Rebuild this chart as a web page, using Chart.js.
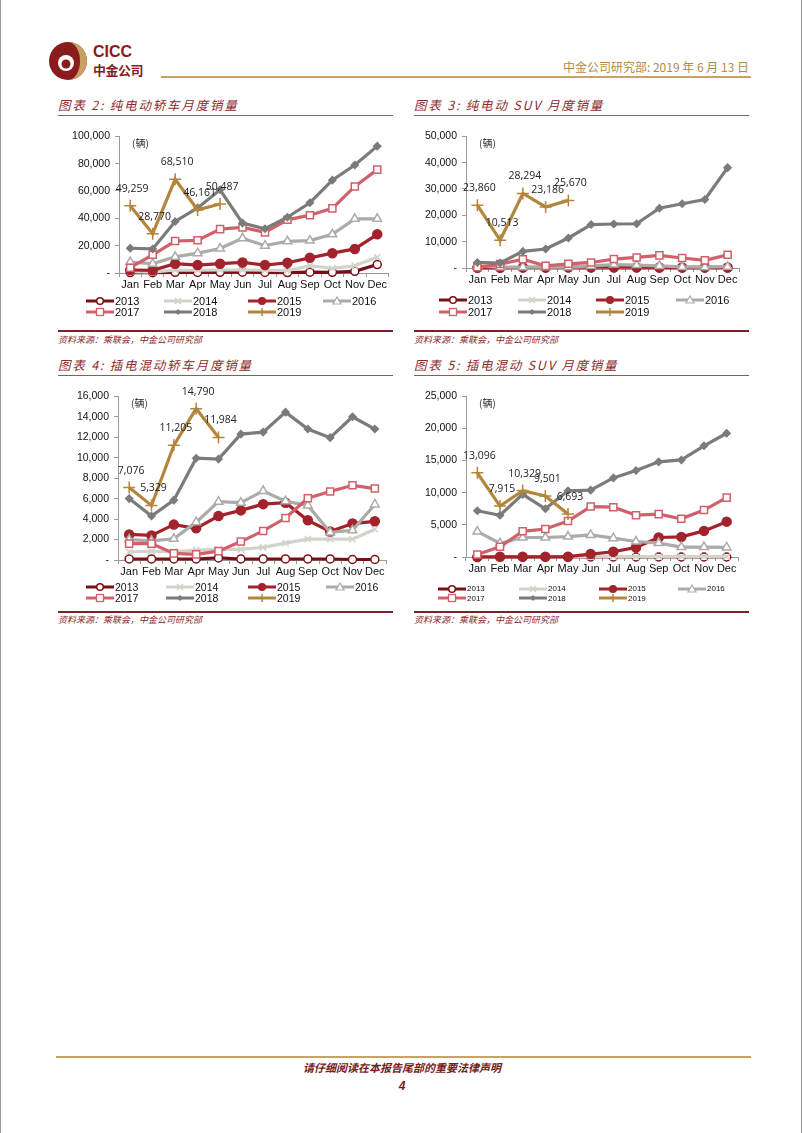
<!DOCTYPE html>
<html>
<head>
<meta charset="utf-8">
<script src="https://cdn.jsdelivr.net/npm/chart.js@4.4.1/dist/chart.umd.min.js"></script>
<style>
body { margin: 0; background: #fff; }
#page { position: relative; width: 802px; height: 1133px; overflow: hidden; box-sizing: border-box;
        border-left: 1px solid #999; border-right: 1px solid #999; font-family: "Liberation Sans", Arial, sans-serif; }
.abs { position: absolute; }
.title { font-family: "Noto Sans CJK SC"; font-style: italic; font-size: 12.5px; color: #8b2b2b; letter-spacing: 1.8px; white-space: nowrap; line-height: 14px; }
.tline { height: 1px; background: #b04a50; }
.sline { height: 2px; background: #7a2228; }
.src { font-family: "Noto Sans CJK SC"; font-style: italic; font-size: 9px; color: #8b2b2b; white-space: nowrap; line-height: 10px; }
.box { position: absolute; }
.leg { position: absolute; display: flex; align-items: center; white-space: nowrap; color: #111; }
.leg svg { display: block; margin-right: 1px; }
</style>
</head>
<body>
<div id="page">
  <!-- header -->
  <svg class="abs" style="left:46px;top:40px" width="42" height="42" viewBox="0 0 42 42">
    <circle cx="21" cy="21" r="19" fill="#8b1c1c"/>
    <path d="M21 2 A19 19 0 0 1 21 40 A12 19 0 0 0 21 2 Z" fill="#c9a063"/>
    <circle cx="19" cy="23" r="8" fill="#fff"/>
    <circle cx="19" cy="24" r="4.5" fill="#8b1c1c"/>
  </svg>
  <div class="abs" style="left:92px;top:43px;font:bold 16px 'Liberation Sans',Arial;color:#8b1c1c">CICC</div>
  <div class="abs" style="left:92px;top:60px;font:bold 13px 'Noto Sans CJK SC';color:#8b1c1c;letter-spacing:-0.5px">中金公司</div>
  <div class="abs" style="right:52px;top:58px;font:12px 'Noto Sans CJK SC';color:#b5894a;white-space:nowrap">中金公司研究部: 2019 年 6 月 13 日</div>
  <div class="abs" style="left:160px;top:76px;width:590px;height:2px;background:#c8a266"></div>

  <!-- chart 1 -->
  <div class="abs title" style="left:57px;top:98px">图表 2: 纯电动轿车月度销量</div>
  <div class="abs tline" style="left:57px;top:115px;width:335px"></div>
  <div class="box" style="left:55px;top:125px;width:340px;height:172px"><canvas id="c1"></canvas></div>
  <div class="abs sline" style="left:57px;top:330px;width:335px"></div>
  <div class="abs src" style="left:57px;top:335px">资料来源：乘联会，中金公司研究部</div>

  <!-- chart 2 -->
  <div class="abs title" style="left:413px;top:98px">图表 3: 纯电动 SUV 月度销量</div>
  <div class="abs tline" style="left:413px;top:115px;width:335px"></div>
  <div class="box" style="left:410px;top:125px;width:340px;height:167px"><canvas id="c2"></canvas></div>
  <div class="abs sline" style="left:413px;top:330px;width:335px"></div>
  <div class="abs src" style="left:413px;top:335px">资料来源：乘联会，中金公司研究部</div>

  <!-- chart 3 -->
  <div class="abs title" style="left:57px;top:358px">图表 4: 插电混动轿车月度销量</div>
  <div class="abs tline" style="left:57px;top:375px;width:335px"></div>
  <div class="box" style="left:55px;top:385px;width:340px;height:199px"><canvas id="c3"></canvas></div>
  <div class="abs sline" style="left:57px;top:611px;width:335px"></div>
  <div class="abs src" style="left:57px;top:615px">资料来源：乘联会，中金公司研究部</div>

  <!-- chart 4 -->
  <div class="abs title" style="left:413px;top:358px">图表 5: 插电混动 SUV 月度销量</div>
  <div class="abs tline" style="left:413px;top:375px;width:335px"></div>
  <div class="box" style="left:410px;top:385px;width:340px;height:196px"><canvas id="c4"></canvas></div>
  <div class="abs sline" style="left:413px;top:611px;width:335px"></div>
  <div class="abs src" style="left:413px;top:615px">资料来源：乘联会，中金公司研究部</div>

  <!-- footer -->
  <div class="abs" style="left:55px;top:1056px;width:695px;height:2px;background:#c8a266"></div>
  <div class="abs" style="left:0;width:802px;top:1059px;text-align:center;font:italic bold 11px 'Noto Sans CJK SC';color:#7a1c1c">请仔细阅读在本报告尾部的重要法律声明</div>
  <div class="abs" style="left:0;width:802px;top:1079px;text-align:center;font:italic bold 12px 'Liberation Sans',Arial;color:#7a1c1c">4</div>
</div>

<script>
const months = ['Jan', 'Feb', 'Mar', 'Apr', 'May', 'Jun', 'Jul', 'Aug', 'Sep', 'Oct', 'Nov', 'Dec'];
const years = ['2013', '2014', '2015', '2016', '2017', '2018', '2019'];

// 纯电动轿车
const bevSedan2013 = [300, 200, 500, 400, 500, 600, 400, 300, 600, 500, 1200, 6200];
const bevSedan2014 = [1000, 700, 2200, 2000, 2200, 2200, 2000, 1700, 5300, 3400, 5300, 11500];
const bevSedan2015 = [2200, 1900, 6800, 5800, 6800, 7700, 5800, 7500, 11100, 14500, 17600, 28300];
const bevSedan2016 = [8000, 6800, 11800, 14500, 17900, 25400, 20000, 23200, 23700, 28300, 39600, 39600];
const bevSedan2017 = [3900, 13300, 23400, 23900, 32100, 33300, 29700, 38900, 42300, 47300, 63300, 75600];
const bevSedan2018 = [18100, 17600, 37700, 47600, 60900, 36500, 32400, 40800, 51400, 67900, 79000, 92800];
const bevSedan2019 = [49259, 28770, 68510, 46161, 50487];

// 纯电动SUV
const bevSuv2013 = [0, 0, 0, 0, 0, 0, 0, 0, 0, 0, 0, 0];
const bevSuv2014 = [100, 100, 100, 100, 100, 200, 200, 200, 300, 300, 300, 300];
const bevSuv2015 = [100, 100, 200, 200, 300, 300, 300, 300, 200, 200, 200, 200];
const bevSuv2016 = [800, 300, 300, 300, 300, 800, 1300, 1100, 800, 400, 300, 500];
const bevSuv2017 = [300, 1500, 3300, 800, 1600, 2100, 3400, 4000, 4800, 3800, 2900, 5000];
const bevSuv2018 = [2100, 1900, 6300, 7200, 11400, 16500, 16700, 16800, 22700, 24400, 26000, 38100];
const bevSuv2019 = [23860, 10513, 28294, 23186, 25670];

// 插电混动轿车
const phevSedan2013 = [100, 100, 100, 100, 200, 100, 100, 100, 100, 100, 50, 50];
const phevSedan2014 = [780, 870, 800, 970, 1030, 1030, 1230, 1650, 2040, 2040, 2040, 3000];
const phevSedan2015 = [2500, 2400, 3460, 3100, 4300, 4850, 5460, 5600, 3880, 2780, 3560, 3780];
const phevSedan2016 = [2000, 1870, 2070, 3700, 5700, 5600, 6750, 5750, 5330, 2700, 2900, 5430];
const phevSedan2017 = [1600, 1600, 650, 550, 870, 1800, 2840, 4100, 6040, 6700, 7300, 6980];
const phevSedan2018 = [6000, 4300, 5850, 9950, 9860, 12300, 12500, 14450, 12800, 11960, 14000, 12800];
const phevSedan2019 = [7076, 5329, 11205, 14790, 11984];

// 插电混动SUV
const phevSuv2013 = [0, 0, 0, 0, 0, 0, 0, 0, 0, 0, 0, 0];
const phevSuv2014 = [0, 0, 0, 0, 0, 50, 50, 50, 50, 50, 50, 50];
const phevSuv2015 = [0, 30, 30, 30, 50, 460, 820, 1490, 3030, 3130, 4060, 5500];
const phevSuv2016 = [3950, 2150, 3030, 3030, 3180, 3440, 2930, 2410, 2160, 1540, 1540, 1490];
const phevSuv2017 = [400, 1600, 4000, 4360, 5600, 7850, 7750, 6500, 6670, 5950, 7300, 9240];
const phevSuv2018 = [7200, 6500, 9750, 7500, 10300, 10400, 12300, 13450, 14800, 15100, 17300, 19250];
const phevSuv2019 = [13096, 7915, 10329, 9501, 6693];

// series look per year
const styles = {
  '2013': { color: '#7a1016', point: 'circle', fill: '#fff', r: 4 },
  '2014': { color: '#d3d3cb', point: 'crossRot', fill: '#d3d3cb', r: 4.5 },
  '2015': { color: '#a3232d', point: 'circle', fill: '#a3232d', r: 4.5 },
  '2016': { color: '#ababa8', point: 'triangle', fill: '#fff', r: 5 },
  '2017': { color: '#d0606a', point: 'rect', fill: '#fff', r: 5 },
  '2018': { color: '#7b7b79', point: 'rectRot', fill: '#7b7b79', r: 3.5 },
  '2019': { color: '#b3863c', point: 'cross', fill: '#b3863c', r: 6 }
};

const valueLabels = {
  id: 'valueLabels',
  afterDatasetsDraw(chart) {
    const ctx = chart.ctx;
    chart.data.datasets.forEach((ds, i) => {
      if (ds.label !== '2019') return;
      const meta = chart.getDatasetMeta(i);
      ctx.save();
      ctx.font = '10.5px "Open Sans"';
      ctx.fillStyle = '#222';
      ctx.textAlign = 'center';
      ctx.textBaseline = 'middle';
      meta.data.forEach((pt, j) => {
        if (ds.data[j] == null) return;
        ctx.fillText(ds.data[j].toLocaleString('en-US'), pt.x + 2, pt.y - 17);
      });
      ctx.restore();
    });
    // unit
    ctx.save();
    ctx.font = '10px "Noto Sans CJK SC"';
    ctx.fillStyle = '#333';
    ctx.textBaseline = 'middle';
    ctx.fillText('(辆)', chart.chartArea.left + 13, chart.chartArea.top + 7);
    ctx.restore();
  }
};

function makeChart(id, series, yMax, step, yWidth, padRight) {
  const datasets = years.map((y, i) => {
    const s = styles[y];
    return {
      label: y,
      data: series[i],
      borderColor: s.color,
      backgroundColor: s.fill,
      borderWidth: 3.2,
      pointStyle: s.point,
      pointRadius: s.r,
      pointBorderColor: s.color,
      pointBackgroundColor: s.fill,
      pointBorderWidth: 1.5,
      tension: 0,
      clip: false,
      order: 6 - i
    };
  });
  return new Chart(document.getElementById(id), {
    type: 'line',
    data: { labels: months, datasets },
    options: {
      responsive: true,
      maintainAspectRatio: false,
      animation: false,
      layout: { padding: { top: 10, right: padRight, left: 0, bottom: 0 } },
      plugins: { legend: { display: false }, tooltip: { enabled: false } },
      scales: {
        x: {
          offset: true,
          grid: { drawOnChartArea: false, drawTicks: true, tickLength: 4, offset: true, color: '#999' },
          border: { color: '#999' },
          ticks: { autoSkip: false, maxRotation: 0, padding: 1, color: '#111', font: { family: '"Liberation Sans", Arial', size: 11 } },
          afterFit: s => { s.height = 24; }
        },
        y: {
          min: 0, max: yMax,
          grid: { drawOnChartArea: false, drawTicks: true, tickLength: 4, color: '#999' },
          border: { color: '#999' },
          ticks: {
            stepSize: step, padding: 5, color: '#111',
            font: { family: '"Liberation Sans", Arial', size: 10.5 },
            callback: v => v === 0 ? '-' : v.toLocaleString('en-US')
          },
          afterFit: s => { s.width = yWidth; }
        }
      }
    },
    plugins: [valueLabels]
  });
}

makeChart('c1', [bevSedan2013, bevSedan2014, bevSedan2015, bevSedan2016, bevSedan2017, bevSedan2018, bevSedan2019], 100000, 20000, 63, 7);
makeChart('c2', [bevSuv2013, bevSuv2014, bevSuv2015, bevSuv2016, bevSuv2017, bevSuv2018, bevSuv2019], 50000, 10000, 55, 12);
makeChart('c3', [phevSedan2013, phevSedan2014, phevSedan2015, phevSedan2016, phevSedan2017, phevSedan2018, phevSedan2019], 16000, 2000, 62, 10);
makeChart('c4', [phevSuv2013, phevSuv2014, phevSuv2015, phevSuv2016, phevSuv2017, phevSuv2018, phevSuv2019], 25000, 5000, 55, 13);

// --- legends (html) ---
function markerSvg(y, w) {
  const s = styles[y];
  const cx = w / 2, cy = 5;
  let m = '';
  if (y === '2013' || y === '2015') m = `<circle cx="${cx}" cy="${cy}" r="3.3" fill="${s.fill}" stroke="${s.color}" stroke-width="1.5"/>`;
  if (y === '2014') m = `<path d="M${cx-3} ${cy-3}L${cx+3} ${cy+3}M${cx+3} ${cy-3}L${cx-3} ${cy+3}" stroke="${s.color}" stroke-width="1.5"/>`;
  if (y === '2016') m = `<polygon points="${cx},${cy-4} ${cx+4},${cy+3} ${cx-4},${cy+3}" fill="#fff" stroke="${s.color}" stroke-width="1.2"/>`;
  if (y === '2017') m = `<rect x="${cx-3.5}" y="${cy-3.5}" width="7" height="7" fill="#fff" stroke="${s.color}" stroke-width="1.3"/>`;
  if (y === '2018') m = `<polygon points="${cx},${cy-3} ${cx+3},${cy} ${cx},${cy+3} ${cx-3},${cy}" fill="${s.color}"/>`;
  if (y === '2019') m = `<path d="M${cx-4} ${cy}L${cx+4} ${cy}M${cx} ${cy-4}L${cx} ${cy+4}" stroke="${s.color}" stroke-width="1.5"/>`;
  return `<svg width="${w}" height="10"><line x1="0" y1="5" x2="${w}" y2="5" stroke="${s.color}" stroke-width="3"/>${m}</svg>`;
}

function makeLegend(cols, rows, fontSize, lineW) {
  const page = document.getElementById('page');
  years.forEach((y, i) => {
    const d = document.createElement('div');
    d.className = 'leg';
    d.style.left = cols[i % 4] + 'px';
    d.style.top = (rows[Math.floor(i / 4)] - 6) + 'px';
    d.style.height = '12px';
    d.style.fontSize = fontSize + 'px';
    d.innerHTML = markerSvg(y, lineW) + '<span>' + y + '</span>';
    page.appendChild(d);
  });
}

makeLegend([85, 163, 247, 322], [301, 312], 11, 28);
makeLegend([438, 517, 595, 675], [300, 312], 11, 28);
makeLegend([85, 165, 247, 325], [587, 597.5], 10.5, 28);
makeLegend([437, 518, 598, 677], [588.5, 598], 8, 28);
</script>
</body>
</html>
